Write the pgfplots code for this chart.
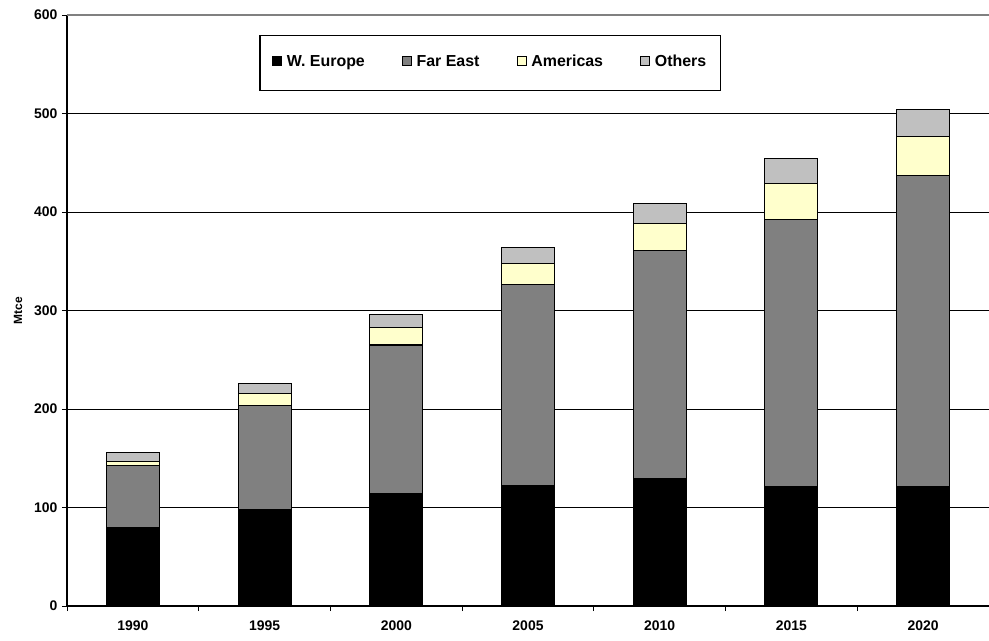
\documentclass[border=0pt]{standalone}
\usepackage{pgfplots}
\pgfplotsset{compat=1.18}
\usepackage{fontspec}
\setmainfont{Liberation Sans}
\definecolor{fe}{RGB}{128,128,128}
\definecolor{am}{RGB}{255,255,204}
\definecolor{ot}{RGB}{192,192,192}
\pgfplotsset{sq/.style={legend image code/.code={\draw[##1,draw=black,line width=0.8bp] (0bp,-1.5bp) rectangle (9bp,7.5bp);}}}
\begin{document}
\begin{tikzpicture}
\begin{axis}[
 name=ax,
 scale only axis, width=922bp, height=591bp,
 ybar stacked, bar width=53bp,
 ymin=0, ymax=600, xmin=-0.5, xmax=6.5,
 axis x line*=bottom, axis y line*=left,
 axis line style={line width=1.4bp, black},
 ytick={0,100,...,500},
 extra y ticks={600},
 extra y tick style={grid style={draw=gray, line width=1.2bp}},
 ymajorgrids, grid style={black, line width=0.8bp},
 xtick={0,...,6},
 xticklabels={1990,1995,2000,2005,2010,2015,2020},
 major x tick style={draw=none},
 minor xtick={-0.5,0.5,...,6.5},
 tick align=outside,
 major tick length=5bp, minor tick length=5bp,
 tick style={black, line width=0.8bp},
 /pgf/number format/assume math mode=true,
 ticklabel style={font=\bfseries\fontsize{14}{16}\selectfont},
 yticklabel style={xshift=-1bp},
 xticklabel style={yshift=-6bp},
 every axis y label/.style={at={(rel axis cs:0,0.5)}, rotate=90, anchor=center, yshift=49bp, font=\bfseries\fontsize{12}{14}\selectfont},
 ylabel={Mtce},
 legend style={at={(0.459,0.966)}, anchor=north, legend columns=4, draw=black, line width=1.3bp,
   font=\bfseries\fontsize{16}{18}\selectfont,
   inner xsep=12bp, inner ysep=20bp,
   nodes={text height=0.72em, text depth=0.2em},
   /tikz/every odd column/.append style={column sep=3bp},
   /tikz/every even column/.append style={column sep=35bp}},
 legend cell align=left,
]
\addplot[fill=black, draw=black, line width=1.1bp, sq] coordinates {(0,80) (1,98) (2,114) (3,122) (4,129) (5,121) (6,121)};
\addplot[fill=fe, draw=black, line width=1.1bp, sq] coordinates {(0,63) (1,106) (2,151) (3,204) (4,232) (5,271) (6,316)};
\addplot[fill=am, draw=black, line width=1.1bp, sq] coordinates {(0,4) (1,12) (2,18) (3,22) (4,27) (5,37) (6,40)};
\addplot[fill=ot, draw=black, line width=1.1bp, sq] coordinates {(0,9) (1,10) (2,13) (3,16) (4,21) (5,25) (6,27)};
\legend{W. Europe, Far East, Americas, Others}
\end{axis}
\pgfresetboundingbox
\path ([xshift=-67bp,yshift=-34bp]ax.south west) rectangle ([yshift=15bp]ax.north east);
\end{tikzpicture}
\end{document}
